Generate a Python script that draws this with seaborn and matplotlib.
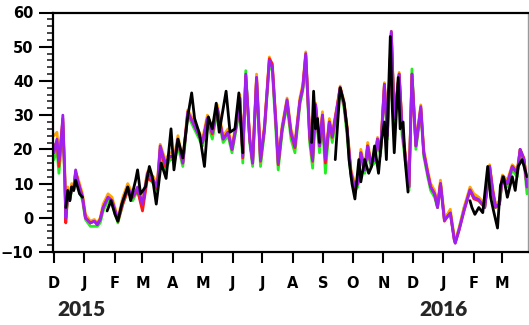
import numpy as np
import pandas as pd
import matplotlib
matplotlib.use("Agg")
import matplotlib.pyplot as plt
import matplotlib.dates as mdates
from matplotlib.ticker import MultipleLocator, FuncFormatter
import seaborn as sns

START = pd.Timestamp("2014-12-01")

# days since 1 Dec 2014 (model runs, shared sampling)
model_days = [0, 3, 5, 7, 9, 11, 12, 14, 16, 18,
              20, 22, 24, 26, 29, 32, 37, 41, 44, 47,
              50, 55, 59, 65, 70, 75, 80, 85, 90, 95,
              101, 105, 108, 113, 118, 123, 126, 131, 136, 141,
              146, 151, 156, 161, 166, 172, 177, 181, 186, 189,
              192, 195, 199, 202, 206, 210, 214, 219, 222, 226,
              228, 232, 237, 241, 245, 250, 253, 256, 260, 263,
              266, 270, 273, 276, 280, 283, 288, 291, 295, 298,
              302, 306, 309, 312, 316, 319, 322, 326, 329, 332,
              336, 339, 343, 346, 351, 354, 358, 361, 364, 368,
              373, 376, 380, 383, 387, 390, 393, 397, 400, 403,
              407, 408, 412, 417, 423, 427, 432, 438, 443, 446,
              449, 453, 456, 461, 466, 471, 474, 478, 481]

green_vals = [17, 20, 13, 19, 27, 11, -0.5, 6, 5, 8,
              8, 13, 10, 8, 5, -0.5, -2.5, -2.5, -2.5, -1.5,
              2, 5, 4, -1.5, 4, 8, 5, 8, 3, 12,
              10, 8, 19, 14, 17, 17, 21, 15, 30, 27,
              24, 21, 28, 23, 31, 22, 24, 19, 27, 34,
              16, 43, 22, 15, 40, 15, 25, 45, 43, 24,
              14, 25, 33, 23, 19, 33, 37, 47, 22, 14.5,
              32, 19, 28, 13, 27, 22, 31, 37, 32, 24,
              12, 8, 9, 18, 13, 20, 15, 16, 22, 18,
              38, 23, 54, 28, 41, 24, 15, 8, 43.5, 20,
              31, 18, 12, 8, 6, 3, 10, -0.5, 1, 1.5,
              -6, -7, -3, 3, 8, 6, 5, 3, 14.5, 7.5,
              3, 4, 11, 9, 14, 12, 19, 16, 7]

orange_vals = [24, 25, 19, 23, 28, 14, 1, 9, 6, 10,
               9, 13, 12, 10, 7, 1, -1, -0.5, -1.5, 0,
               4, 7, 6, 0, 6, 10, 7, 8, 5, 13.5,
               12, 10, 21.5, 17, 19, 19, 24, 17, 31.5, 29,
               26, 23, 30, 26, 33, 24, 26, 21, 29, 36,
               19, 41, 24, 17, 42, 18, 27, 47, 44.5, 27,
               17, 27, 35, 26, 22, 35, 39, 48.5, 25, 18,
               33.5, 22, 31, 18, 29, 25, 33, 38.5, 34, 27,
               14, 10, 11, 20, 15, 22, 17, 18, 23.5, 20,
               39.5, 25, 54.5, 30, 42.5, 27, 17, 10, 41.5, 22,
               33, 20, 14, 10, 8, 4, 11, 0.5, 1, 2.5,
               -5.5, -6.8, -3, 3, 9, 7, 6, 4, 15.5, 9,
               4, 5, 12.5, 11, 15.5, 14, 20, 17.5, 10]

red_vals = [21, 22, 15, 22, 29, 11, -1.5, 7, 5, 9,
            8, 13.5, 11, 9, 6, 0, -1.5, -1, -2, -0.5,
            3, 6, 5, -1, 4, 8, 6, 8, 2, 11.5,
            10.5, 8.5, 20, 15, 18, 17.5, 22.5, 16, 30.5, 28,
            25, 22, 29, 24.5, 32, 23, 25, 20, 28, 35,
            17.5, 41.5, 23, 16, 41, 16.5, 26, 46.5, 45, 26,
            15.5, 26, 34, 24.5, 20.5, 34, 38, 47.5, 23.5, 16.5,
            33, 21, 30, 16, 28, 23.5, 32.5, 38, 33, 26,
            13, 8.5, 10, 19, 14, 21, 16, 17, 23, 19,
            39, 24, 54, 29, 42, 26, 16, 9, 42, 21,
            32, 19, 13, 9, 7, 3, 10, -1, 0.3, 1.4,
            -6.4, -7.4, -3.5, 2, 8, 5.5, 5, 3, 15, 8,
            3, 4, 12, 10, 15, 13, 20, 17, 9]

purple_vals = [19, 23, 17, 21, 30, 12, 0, 7, 5, 9,
               8, 14, 11, 9, 6, 0, -1.5, -1, -2, -0.5,
               3, 6, 5, -0.5, 5, 9, 6, 9, 4, 13,
               11, 9, 21, 16, 18, 18, 23, 16, 31, 28,
               25, 22, 29, 25, 32, 23, 25, 20, 28, 35,
               18, 42, 23, 16, 41, 17, 26, 46, 44, 26,
               16, 26, 34.5, 25, 21, 34, 38, 48, 24, 17,
               33, 21, 30, 17, 28, 24, 32.5, 38, 33.5, 26,
               13, 9, 10, 19, 14, 21, 16, 17, 23, 19,
               39, 24, 54.5, 29, 42, 26, 16, 9, 42, 21,
               32.5, 19, 13, 9, 7, 3, 10, -0.6, 0.3, 1.4,
               -6.4, -7.4, -3.5, 2.3, 8.2, 6, 5.3, 3, 15, 8,
               3.3, 4, 12, 10, 15, 13, 20, 17, 9]

# observations (black), NaN marks a gap in the record
obs_days = [12, 14, 16, 18, 20, 22, 24, 26, 29, 30,
            54, 58, 62, 65, 69, 75, 78, 83, 85, 88,
            93, 97, 100, 104, 109, 114, 119, 122, 126, 131,
            136, 140, 143, 148, 153, 157, 161, 165, 168, 175,
            179, 184, 188, 192, 193,
            262, 264, 266, 268, 270, 271,
            286, 289, 291, 295, 298, 300, 303, 306, 310, 312,
            316, 320, 323, 326, 330, 333, 336, 338, 342, 344,
            346, 350, 352, 355, 357, 360, 361,
            423, 425, 428, 432, 436, 441, 444, 447, 451, 454,
            457, 461, 466, 469, 472, 476, 481]
obs_vals = [3, 8, 5, 9, 8, 11, 9, 7, 6, np.nan,
            2, 5, 1, -1, 4, 9, 5, 11, 14, 7,
            9, 15, 12, 4, 16, 11.5, 26, 14, 23, 17.5,
            29.5, 36.5, 29, 24.5, 15, 29.5, 26, 33.5, 25, 37,
            25, 26, 36.5, 19, np.nan,
            22, 37, 26, 29, 22, np.nan,
            17, 30, 38, 33.5, 26, 17, 10, 5.5, 17, 10.5,
            17, 13, 15, 21, 13, 22.5, 28, 17, 53, 32,
            19, 41, 26, 28, 17, 7.5, np.nan,
            5, 3, 1, 3, 1.5, 15, 6, 2, -3, 9.5,
            12, 6, 12, 8, 15, 17, 12]

series_colors = {"green": "#22ee22", "orange": "#ffa500",
                 "red": "#ff1a1a", "purple": "#a020f0"}

sns.set_theme(style="white")
plt.rcParams.update({"font.family": ["DejaVu Sans"], "font.weight": "bold"})

model = pd.DataFrame({"day": model_days, "green": green_vals, "orange": orange_vals,
                      "red": red_vals, "purple": purple_vals})
model["date"] = START + pd.to_timedelta(model["day"], unit="D")

obs = pd.DataFrame({"day": obs_days, "val": obs_vals})
obs["seg"] = obs["val"].isna().cumsum()
obs = obs.dropna()
obs["date"] = START + pd.to_timedelta(obs["day"], unit="D")

fig = plt.figure(figsize=(5.29, 3.25), dpi=100)
ax = fig.add_axes([53 / 529, 1 - 252 / 325, 475 / 529, 239.5 / 325])

for name, col in series_colors.items():
    sns.lineplot(data=model, x="date", y=name, color=col, lw=2.0, ax=ax)
sns.lineplot(data=obs, x="date", y="val", units="seg", estimator=None,
             color="black", lw=2.0, ax=ax)

ax.set_xlim(START - pd.Timedelta(days=1), START + pd.Timedelta(days=482))
ax.set_ylim(-10, 60)
ax.set_xlabel("")
ax.set_ylabel("")

ax.yaxis.set_major_locator(MultipleLocator(10))
ax.yaxis.set_minor_locator(MultipleLocator(2))
ax.xaxis.set_major_locator(mdates.MonthLocator())
ax.xaxis.set_major_formatter(FuncFormatter(lambda v, p: mdates.num2date(v).strftime("%b")[0]))

ax.tick_params(axis="y", which="major", direction="out", length=10, width=1.5,
               left=True, labelsize=10.5, pad=4, colors="black")
ax.tick_params(axis="y", which="minor", direction="out", length=4.5, width=1.2, left=True)
ax.tick_params(axis="x", which="major", direction="out", length=8, width=1.5,
               bottom=True, labelsize=10.5, pad=9, colors="black")

for side in ["left", "bottom", "top"]:
    ax.spines[side].set_color("black")
    ax.spines[side].set_linewidth(1.6)
ax.spines["right"].set_color("#999999")
ax.spines["right"].set_linewidth(1.0)

fig.text(81 / 529, 1 - 309 / 325, "2015", ha="center", va="center",
         fontsize=15, fontweight="heavy", family=["Lato", "DejaVu Sans"])
fig.text(444 / 529, 1 - 309 / 325, "2016", ha="center", va="center",
         fontsize=15, fontweight="heavy", family=["Lato", "DejaVu Sans"])

fig.savefig("out.png", dpi=100)
